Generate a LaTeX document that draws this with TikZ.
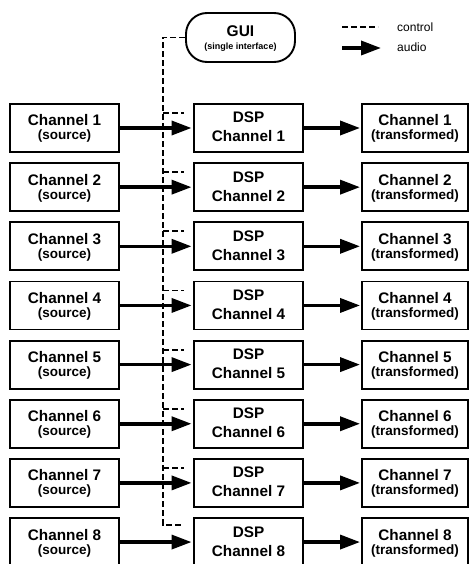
\documentclass[tikz,border=0pt]{standalone}
\usepackage{fontspec}
\setmainfont{Liberation Sans}
\usetikzlibrary{arrows.meta}

\tikzset{
  box/.style={draw, line width=1.9pt, rectangle, inner sep=0pt, minimum height=48pt},
  srcbox/.style={box, minimum width=109pt},
  dspbox/.style={box, minimum width=109pt},
  outbox/.style={box, minimum width=106pt},
  guibox/.style={draw, line width=1.9pt, rectangle, rounded corners=21pt, inner sep=0pt,
                 minimum width=109pt, minimum height=49pt},
  bigtxt/.style={anchor=base, inner sep=0pt, font=\fontsize{15.3}{16}\selectfont\bfseries},
  smalltxt/.style={anchor=base, inner sep=0pt, font=\fontsize{13.5}{14}\selectfont\bfseries},
  audio/.style={line width=3.5pt, -{Triangle[length=20pt, width=14pt]}},
  control/.style={line width=1.9pt, dash pattern=on 6pt off 3pt},
  legendtxt/.style={anchor=base west, inner sep=0pt, font=\fontsize{12}{13}\selectfont},
}

\begin{document}
\begin{tikzpicture}[x=1pt, y=-1pt]
  \useasboundingbox (0,0) rectangle (469,564);
  \clip (0,0) rectangle (469,564);

  % GUI node and legend
  \node[guibox] (gui) at (240.5,37.5) {};
  \node[anchor=base, inner sep=0pt, font=\fontsize{15.5}{16}\selectfont\bfseries] (guit) at (240.5,37) {GUI};
  \node[anchor=base, inner sep=0pt, font=\fontsize{9}{10}\selectfont\bfseries] (guis) at (240.5,50) {(single interface)};

  \coordinate (lc1) at (342,27);
  \coordinate (lc2) at (378,27);
  \draw[control] (lc1) -- (lc2);
  \node[legendtxt] (lct) at (397,32) {control};
  \coordinate (la1) at (342,48);
  \coordinate (la2) at (381,48);
  \draw[audio] (la1) -- (la2);
  \node[legendtxt] (lat) at (397,52) {audio};

  % control bus
  \coordinate (bustop) at (163,37.5);
  \coordinate (busbot) at (163,525);
  \coordinate (busend) at (184,525);
  \draw[control] (gui.west) -- (bustop) -- (busbot) -- (busend);

  % channel rows
  \foreach \i in {1,...,8} {
    \pgfmathsetmacro{\t}{104 + 59.15*(\i-1)}
    \pgfmathsetmacro{\c}{\t + 24}
    \node[srcbox] (src\i) at (64.5,\c) {};
    \node[dspbox] (dsp\i) at (248.5,\c) {};
    \node[outbox] (out\i) at (415,\c) {};

    \node[bigtxt]   (srca\i) at (64.5,\t+22) {Channel \i};
    \node[smalltxt] (srcb\i) at (64.5,\t+36) {(source)};
    \node[bigtxt]   (dspa\i) at (248.5,\t+19) {DSP};
    \node[bigtxt]   (dspb\i) at (248.5,\t+38) {Channel \i};
    \node[bigtxt]   (outa\i) at (415,\t+22) {Channel \i};
    \node[smalltxt] (outb\i) at (415,\t+36) {(transformed)};

    \draw[audio, shorten >=1.5pt] (src\i) -- (dsp\i);
    \draw[audio, shorten >=1pt] (dsp\i) -- (out\i);
  }

  % control taps to each DSP stage
  \foreach \i in {1,...,7} {
    \pgfmathsetmacro{\s}{104 + 59.15*(\i-1) + 9}
    \coordinate (tapa\i) at (163,\s);
    \coordinate (tapb\i) at (184,\s);
    \draw[control] (tapa\i) -- (tapb\i);
  }
\end{tikzpicture}
\end{document}
